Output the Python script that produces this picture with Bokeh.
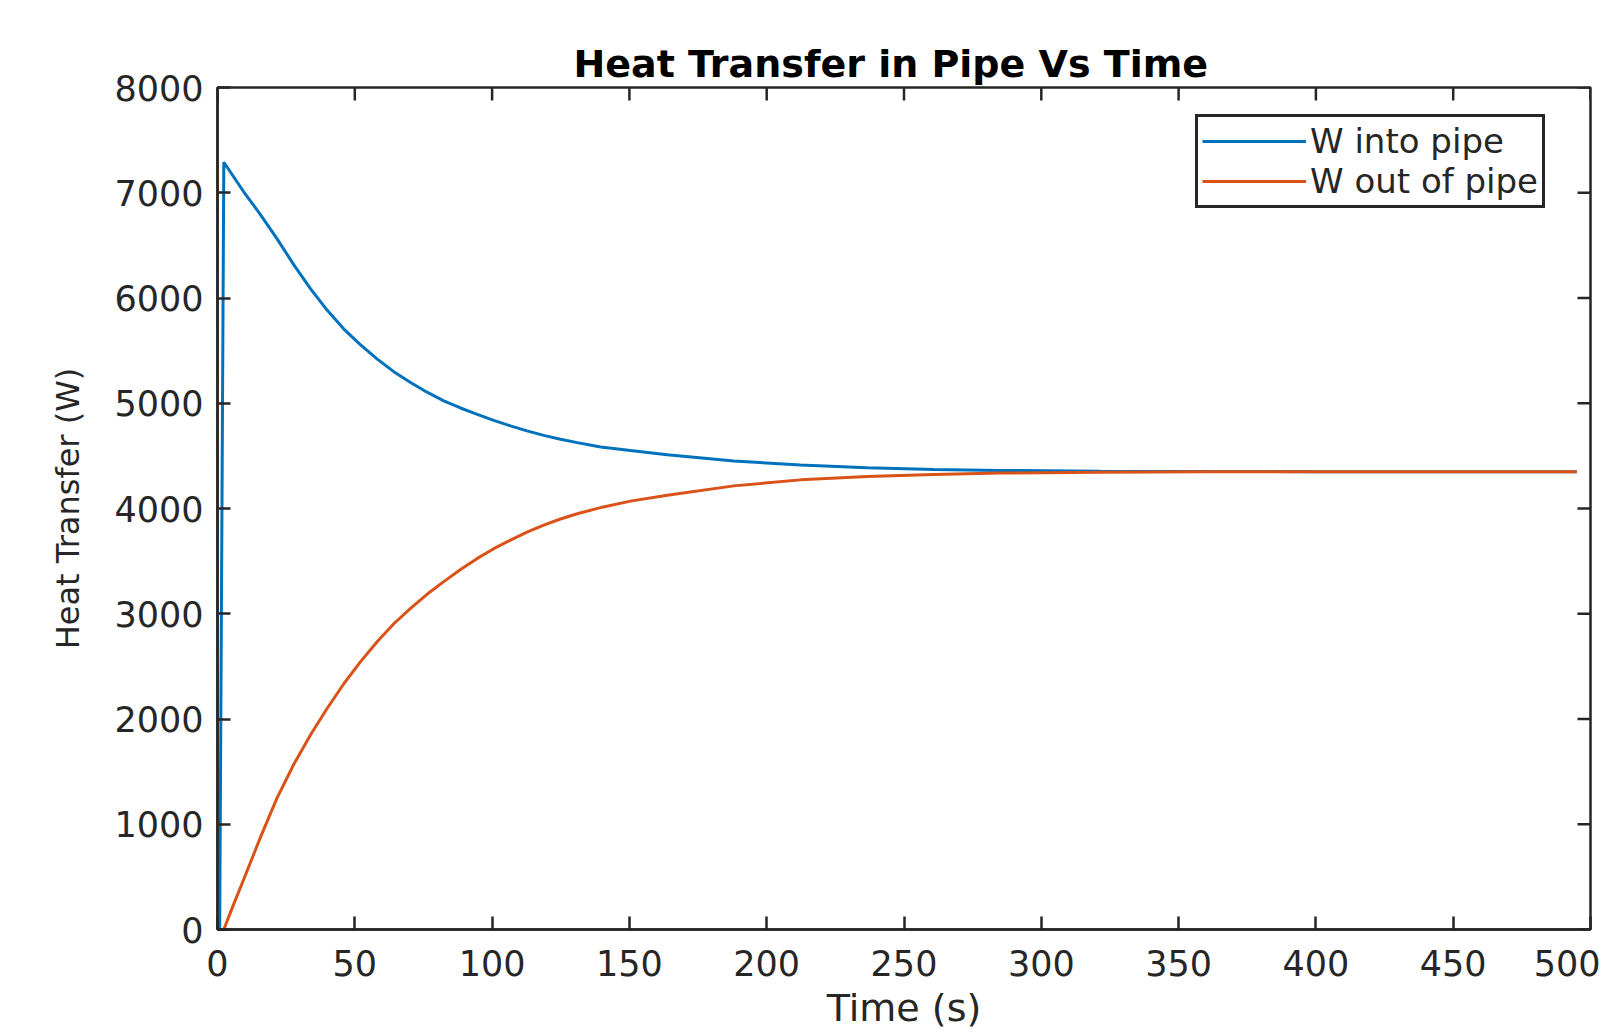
import math
from bokeh.plotting import figure
from bokeh.models import Range1d, FixedTicker, Legend, LegendItem
from bokeh.embed import file_html
from bokeh.resources import INLINE

# ---- data ----
time_in = [0.8, 2.3, 9.6, 15.7, 21.7, 27.8, 33.9, 39.9, 46.0, 52.1, 58.2, 64.2,
           70.3, 76.3, 82.4, 88.5, 94.6, 100.6, 106.7, 112.7, 118.8, 124.9,
           131.0, 139.5, 150.4, 163.8, 188.0, 212.3, 236.6, 260.9, 285.0, 321.6,
           360.0, 400.0, 450.0, 495.0]
w_in = [0, 7290, 7007, 6790, 6562, 6315, 6086, 5885, 5705, 5555, 5419, 5300,
        5197, 5105, 5023, 4955, 4895, 4837, 4785, 4738, 4695, 4658,
        4626, 4585, 4550, 4510, 4451, 4413, 4388, 4371, 4362, 4355,
        4351, 4350, 4350, 4350]

time_out = [2.3, 5.5, 9.6, 15.7, 21.7, 27.8, 33.9, 39.9, 46.0, 52.1, 58.2, 64.2,
            70.3, 76.3, 82.4, 88.5, 94.6, 100.6, 106.7, 112.7, 118.8, 124.9,
            131.0, 140.5, 150.4, 163.8, 188.0, 212.3, 236.6, 260.9, 285.0, 321.6,
            360.0, 400.0, 450.0, 495.0]
w_out = [0, 215, 480, 880, 1250, 1570, 1850, 2100, 2335, 2545, 2737, 2905,
         3052, 3185, 3305, 3420, 3526, 3618, 3700, 3775, 3842, 3900,
         3950, 4015, 4070, 4125, 4215, 4272, 4305, 4324, 4337, 4345,
         4349, 4350, 4350, 4350]

x_ticks = [0, 50, 100, 150, 200, 250, 300, 350, 400, 450, 500]
y_ticks = [0, 1000, 2000, 3000, 4000, 5000, 6000, 7000, 8000]
x_min, x_max = 0, 500
y_min, y_max = 0, 8000

title_text = "Heat Transfer in Pipe Vs Time"
x_label = "Time (s)"
y_label = "Heat Transfer (W)"
series_names = ["W into pipe", "W out of pipe"]

BLUE = "#0072BD"
ORANGE = "#D95319"
DARK = "#262626"
FONT = "DejaVu Sans"

p = figure(width=1600, height=1034, x_range=Range1d(x_min, x_max), y_range=Range1d(y_min, y_max),
           output_backend="svg", toolbar_location=None,
           min_border_left=217, min_border_right=10, min_border_top=87, min_border_bottom=105)
p.xgrid.visible = False
p.ygrid.visible = False
p.outline_line_color = DARK
p.outline_line_width = 2.5
p.background_fill_color = "white"
p.border_fill_color = "white"

p.title.text = title_text
p.title.align = "left"
p.title.offset = 356
p.title.text_font = FONT
p.title.text_font_size = "38px"
p.title.text_font_style = "bold"
p.title.text_color = "#000000"
p.title.standoff = 4

def style_axis(ax, ticks):
    ax.ticker = FixedTicker(ticks=ticks)
    ax.axis_line_color = DARK
    ax.axis_line_width = 2.5
    ax.major_tick_line_color = DARK
    ax.major_tick_line_width = 2.5
    ax.major_tick_in = 13
    ax.major_tick_out = 0
    ax.minor_tick_line_color = None
    ax.major_label_text_font = FONT
    ax.major_label_text_color = DARK
    ax.major_label_text_font_size = "35px"

xa = p.xaxis[0]
ya = p.yaxis[0]
style_axis(xa, x_ticks)
style_axis(ya, y_ticks)
xa.major_label_standoff = 20
ya.major_label_standoff = 14
xa.axis_label = x_label
ya.axis_label = y_label
for ax, sz in ((xa, "38px"), (ya, "32px")):
    ax.axis_label_text_font = FONT
    ax.axis_label_text_font_size = sz
    ax.axis_label_text_font_style = "normal"
    ax.axis_label_text_color = DARK
xa.axis_label_standoff = 7
ya.axis_label_standoff = 24

# mirrored inward ticks on the top and right edges of the box
p.ray(x=x_ticks, y=[y_max] * len(x_ticks), length=13, length_units="screen",
      angle=-math.pi / 2, line_color=DARK, line_width=2.5)
p.ray(x=[x_max] * len(y_ticks), y=y_ticks, length=13, length_units="screen",
      angle=math.pi, line_color=DARK, line_width=2.5)

r1 = p.line(time_in, w_in, line_color=BLUE, line_width=3)
r2 = p.line(time_out, w_out, line_color=ORANGE, line_width=3)

legend = Legend(items=[LegendItem(label=series_names[0], renderers=[r1]),
                       LegendItem(label=series_names[1], renderers=[r2])],
                location=(978, 721))
legend.label_text_font = FONT
legend.label_text_font_size = "34px"
legend.label_text_color = DARK
legend.glyph_width = 104
legend.glyph_height = 30
legend.label_height = 30
legend.label_standoff = 4
legend.spacing = 0
legend.padding = 4
legend.margin = 0
legend.border_line_color = DARK
legend.border_line_width = 3
legend.border_line_alpha = 1.0
legend.background_fill_color = "white"
legend.background_fill_alpha = 1.0
p.add_layout(legend, "center")

open("out.html", "w").write(file_html(p, INLINE))
